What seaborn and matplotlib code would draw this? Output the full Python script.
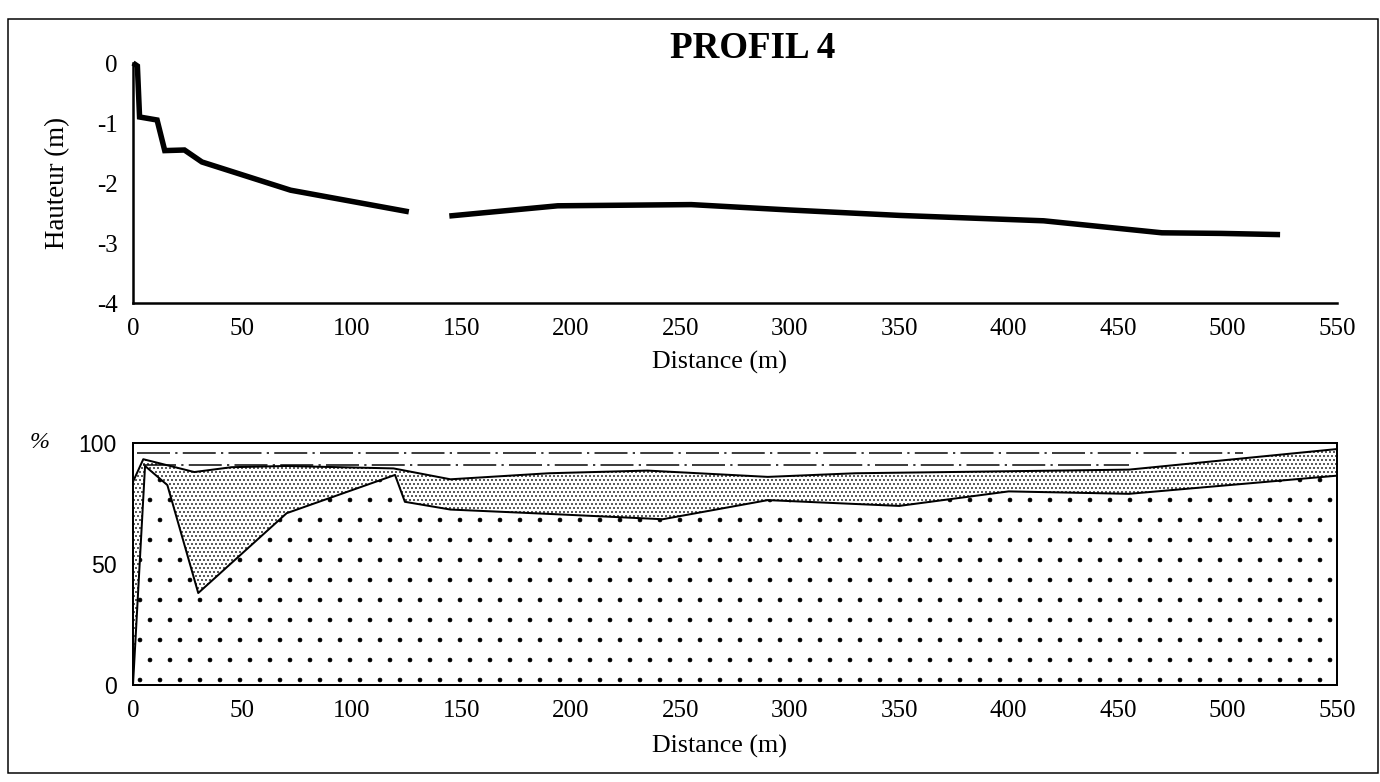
import numpy as np
import matplotlib
matplotlib.use("Agg")
import matplotlib as mpl
import matplotlib.pyplot as plt
import seaborn as sns
from matplotlib.patches import Rectangle

# ---------------- data ----------------
title = "PROFIL 4"
# top panel: height profile (two segments, gap between them)
prof_dist_a = [0, 2, 3, 11, 14.5, 23.5, 31.5, 72, 126]
prof_h_a = [0, -0.05, -0.9, -0.95, -1.46, -1.45, -1.65, -2.12, -2.48]
prof_dist_b = [144.5, 194, 255, 300, 350, 416, 470, 497, 524]
prof_h_b = [-2.55, -2.38, -2.36, -2.45, -2.54, -2.63, -2.83, -2.84, -2.86]

# bottom panel: cumulative percentages
lower_dist = [0, 5.5, 15.7, 29.8, 70.2, 119.7, 124.2, 145, 190, 242, 290, 350, 400, 455, 550]
lower_pct = [0, 90.5, 82.6, 38, 71, 86.8, 75.7, 72.5, 70.7, 68.5, 76.4, 74, 80, 79, 86.5]
upper_dist = [0, 4.7, 28, 45, 70, 119, 145, 190, 235, 290, 330, 373, 455, 550]
upper_pct = [84, 93.3, 88, 90, 90.5, 89.5, 85, 87.5, 88.6, 86, 87.5, 88, 89, 97.5]
dashdot_levels = [96, 91]
dashdot_start = [2, 4.6]
dashdot_end = [507, 455]

x_ticks = [0, 50, 100, 150, 200, 250, 300, 350, 400, 450, 500, 550]
top_y_ticks = [0, -1, -2, -3, -4]
bot_y_ticks = [0, 50, 100]

# ---------------- style ----------------
sns.set_theme(style="white")
plt.rcParams['font.family'] = ['Liberation Serif', 'DejaVu Serif']
plt.rcParams['axes.unicode_minus'] = False

DPI = 120
W, H = 1380, 782


def px(v):
    return v * 72.0 / DPI


fig = plt.figure(figsize=(W / DPI, H / DPI), dpi=DPI)
fig.patch.set_facecolor('white')

# ---------------- top panel ----------------
ax1 = fig.add_axes([133 / W, 1 - 303 / H, 1204 / W, 240 / H])
for xs, ys in [(prof_dist_a, prof_h_a), (prof_dist_b, prof_h_b)]:
    sns.lineplot(x=xs, y=ys, ax=ax1, color='black', linewidth=px(5.5),
                 solid_joinstyle='miter', solid_capstyle='butt', clip_on=False)
ax1.set_xlim(0, 550)
ax1.set_ylim(-4, 0)
ax1.set_xticks(x_ticks)
ax1.set_yticks(top_y_ticks)
ax1.set_xticklabels([str(t) for t in x_ticks])
ax1.set_yticklabels([str(t) for t in top_y_ticks])
ax1.spines['top'].set_visible(False)
ax1.spines['right'].set_visible(False)
for s in ['left', 'bottom']:
    ax1.spines[s].set_linewidth(px(2.5))
    ax1.spines[s].set_color('black')
ax1.tick_params(axis='both', direction='out', length=px(12), width=px(2),
                colors='black', labelsize=px(25), pad=px(3))
ax1.set_xlabel("Distance (m)", fontsize=px(26), color='black')
ax1.set_ylabel("Hauteur (m)", fontsize=px(27), color='black')
ax1.xaxis.set_label_coords(0.487, -0.2)
ax1.yaxis.set_label_coords((70 - 133) / 1204, 0.5)
ax1.set_facecolor('white')

fig.text(753 / W, 1 - 48 / H, title, ha='center', va='center',
         fontsize=px(37), fontweight='bold', color='black')

# ---------------- bottom panel ----------------
ax2 = fig.add_axes([133 / W, 1 - 685 / H, 1204 / W, 242 / H])

with mpl.rc_context({'hatch.linewidth': 0.35}):
    ax2.fill_between(lower_dist, lower_pct, 0, facecolor='white',
                     edgecolor='black', linewidth=0, hatch='.', zorder=1)
with mpl.rc_context({'hatch.linewidth': 0.55}):
    poly_x = np.concatenate([upper_dist, lower_dist[::-1]])
    poly_y = np.concatenate([upper_pct, lower_pct[::-1]])
    ax2.fill(poly_x, poly_y, facecolor='white', edgecolor='black',
             linewidth=0, hatch='.....', zorder=1)

sns.lineplot(x=lower_dist, y=lower_pct, ax=ax2, color='black',
             linewidth=px(2), zorder=3, sort=False)
sns.lineplot(x=upper_dist, y=upper_pct, ax=ax2, color='black',
             linewidth=px(2), zorder=3, sort=False)
for lvl, x0, x1 in zip(dashdot_levels, dashdot_start, dashdot_end):
    ax2.plot([x0, x1], [lvl, lvl], color='black', linewidth=px(1.5),
             dashes=(22, 3.5, 1.5, 3.5), zorder=2)

ax2.set_xlim(0, 550)
ax2.set_ylim(0, 100)
ax2.set_xticks(x_ticks)
ax2.set_yticks(bot_y_ticks)
ax2.set_xticklabels([str(t) for t in x_ticks])
ax2.set_yticklabels([str(t) for t in bot_y_ticks],
                    fontfamily=['Liberation Sans', 'DejaVu Sans'])
for s in ['left', 'bottom', 'top', 'right']:
    ax2.spines[s].set_linewidth(px(2))
    ax2.spines[s].set_color('black')
ax2.tick_params(axis='x', direction='out', length=px(12), width=px(2),
                colors='black', labelsize=px(25), pad=px(3))
ax2.tick_params(axis='y', direction='out', length=px(12), width=px(2),
                colors='black', labelsize=px(23), pad=px(4))
ax2.set_xlabel("Distance (m)", fontsize=px(26), color='black')
ax2.xaxis.set_label_coords(0.487, -0.205)
ax2.text((40 - 133) / 1204, 1.0, "%", transform=ax2.transAxes,
         ha='center', va='center', fontsize=px(24), fontstyle='italic',
         color='black')
ax2.set_facecolor('white')

# outer frame
fig.add_artist(Rectangle((8 / W, 1 - 773 / H), (1378 - 8) / W, (773 - 19) / H,
                         transform=fig.transFigure, fill=False,
                         linewidth=px(1.5), edgecolor='black'))

fig.savefig("out.png", dpi=DPI, facecolor='white')
